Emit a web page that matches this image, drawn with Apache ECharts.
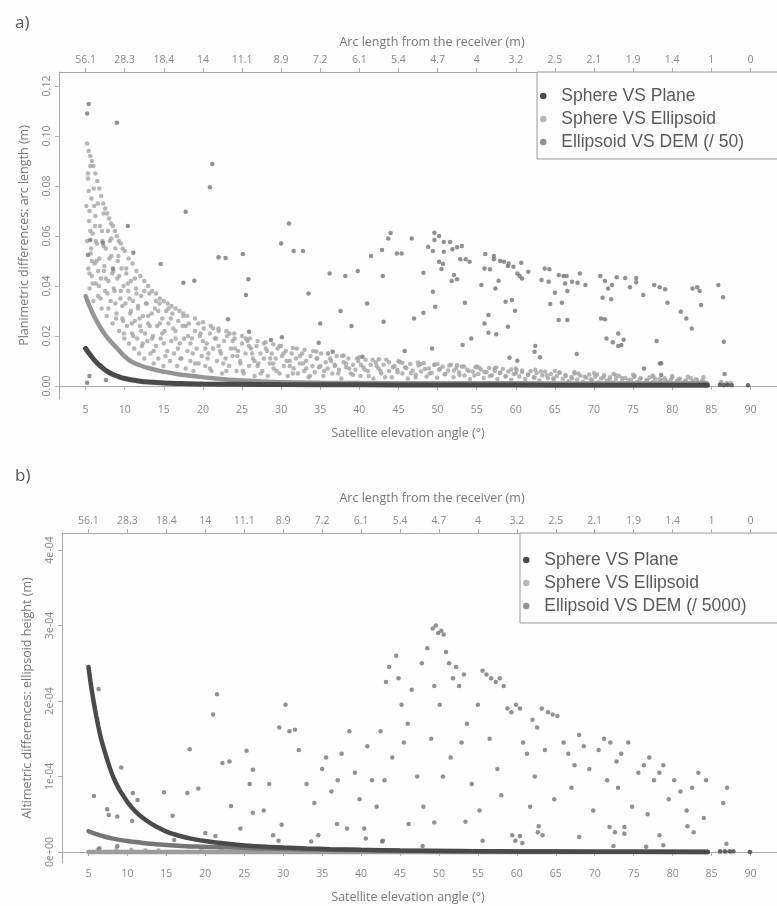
<!DOCTYPE html>
<html>
<head>
<meta charset="utf-8">
<script src="https://cdn.jsdelivr.net/npm/echarts@6/dist/echarts.min.js"></script>
<style>
html,body{margin:0;padding:0;background:#fdfdfd;}
#chart{width:777px;height:906px;}
</style>
</head>
<body>
<div id="chart"></div>
<script>
// ---------- tick labels ----------
const elevTicks = [5,10,15,20,25,30,35,40,45,50,55,60,65,70,75,80,85,90];
const arcLabels = ['56.1','28.3','18.4','14','11.1','8.9','7.2','6.1','5.4','4.7','4','3.2','2.5','2.1','1.9','1.4','1','0'];
const yTicksA = [0,0.02,0.04,0.06,0.08,0.10,0.12];
const yTicksB = [0,1e-4,2e-4,3e-4,4e-4];

// ---------- panel a) planimetric differences ----------
const planeA_curve = [[5,0.0150],[5.5,0.0128],[6,0.0108],[6.5,0.0091],[7,0.0077],[7.5,0.0064],[8,0.0054],[8.5,0.0046],[9,0.0040],[10,0.0030],[11,0.0024],[12,0.0019],[13,0.0016],[15,0.0012],[17,0.0010],[20,0.0008],[25,0.0007],[30,0.0006],[40,0.0005],[50,0.0004],[60,0.0004],[70,0.0003],[84.5,0.0003]];
const planeA_pts = [[86.1,0.0004],[86.6,0.0003],[87.1,0.0004],[87.6,0.0003],[89.7,0.0003]];
const ellA_lower = [[5,0.0360],[5.5,0.0320],[6,0.0285],[6.5,0.0255],[7,0.0228],[7.5,0.0205],[8,0.0185],[8.5,0.0168],[9,0.0152],[10,0.0118],[11,0.0095],[12,0.0082],[13,0.0072],[14,0.0064],[15,0.0057],[17,0.0046],[19,0.0039],[21,0.0032],[24,0.0024],[27,0.0019],[30,0.0015],[35,0.0013],[40,0.0012],[50,0.0011],[60,0.0011],[70,0.0010],[84.5,0.0010]];
const ellA_env = [[5.2,0.097],[5.4,0.094],[5.6,0.092],[5.8,0.090],[6,0.088],[6.25,0.085],[6.5,0.082],[6.75,0.079],[7,0.076],[7.25,0.073],[7.5,0.071],[7.75,0.069],[8,0.067],[8.25,0.065],[8.5,0.064],[8.75,0.062],[9,0.060],[9.25,0.058],[9.5,0.057],[9.75,0.055],[10,0.054],[10.5,0.051],[11,0.049],[11.5,0.046],[12,0.044],[12.5,0.042],[13,0.040],[13.5,0.038],[14,0.037],[14.5,0.035],[15,0.034],[15.5,0.033],[16,0.032],[16.5,0.031],[17,0.030],[17.5,0.029],[18,0.028],[19,0.027],[20,0.0255],[21,0.024],[22,0.023],[23,0.022],[24,0.021],[25,0.020],[26,0.019],[27,0.018],[28,0.0175],[29,0.0167],[30,0.016],[31.5,0.0152],[33,0.0145],[34.5,0.0138],[36,0.013],[38,0.0122],[40,0.0115],[42.5,0.0107],[45,0.010],[47.5,0.0094],[50,0.0088],[52.5,0.0083],[55,0.0078],[57.5,0.0074],[60,0.0070],[62.5,0.0065],[65,0.0060],[67.5,0.0056],[70,0.0052],[72.5,0.0048],[75,0.0045],[77.5,0.0042],[80,0.0040],[82,0.0037],[84,0.0035]];
const ellA_fill = [[5.3,0.085],[5.4,0.078],[5.5,0.070],[5.6,0.062],[5.7,0.055],[5.8,0.050],[5.5,0.045],[5.9,0.041],[6.1,0.072],[6.2,0.064],[6.3,0.058],[6.4,0.050],[6.6,0.046],[6.7,0.040],[6.9,0.035],[7.1,0.062],[7.3,0.056],[7.4,0.048],[7.6,0.043],[7.8,0.037],[7.9,0.031],[8.1,0.058],[8.3,0.052],[8.4,0.045],[8.6,0.039],[8.8,0.033],[8.9,0.027],[9.1,0.050],[9.3,0.044],[9.5,0.038],[9.7,0.032],[9.8,0.026],[9.9,0.021],
[10.2,0.047],[10.4,0.041],[10.6,0.035],[10.8,0.030],[10.9,0.025],[11.1,0.020],[11.3,0.043],[11.5,0.037],[11.7,0.032],[11.9,0.027],[12.1,0.022],[12.3,0.017],[12.5,0.038],[12.8,0.033],[13,0.028],[13.2,0.024],[13.5,0.019],[13.7,0.014],[14,0.034],[14.3,0.030],[14.5,0.025],[14.8,0.021],[15,0.017],[15.2,0.012],[15.6,0.031],[15.9,0.027],[16.2,0.023],[16.5,0.019],[16.8,0.015],[17.1,0.011],[17.5,0.028],[17.8,0.024],[18.1,0.020],[18.4,0.017],[18.7,0.013],[19,0.009],[19.4,0.025],[19.7,0.021],[20,0.018],
[20.3,0.015],[20.6,0.011],[20.9,0.007],[21.3,0.023],[21.7,0.019],[22,0.016],[22.3,0.013],[22.6,0.009],[23,0.006],[23.4,0.021],[23.8,0.018],[24.1,0.015],[24.4,0.012],[24.8,0.009],[25.1,0.006],[25.5,0.019],[25.9,0.016],[26.3,0.013],[26.6,0.010],[27,0.008],[27.4,0.005],[27.8,0.017],[28.2,0.014],[28.6,0.011],[29,0.009],[29.4,0.006],[29.8,0.016],
[30.3,0.013],[30.7,0.010],[31.1,0.008],[31.5,0.005],[32,0.015],[32.4,0.012],[32.8,0.009],[33.2,0.007],[33.7,0.004],[34.1,0.014],[34.6,0.011],[35,0.008],[35.5,0.006],[36,0.013],[36.4,0.010],[36.9,0.008],[37.3,0.005],[37.8,0.012],[38.3,0.009],[38.7,0.007],[39.2,0.0045],[39.7,0.011],[40.2,0.0085],[40.7,0.0065],[41.2,0.004],[41.7,0.0105],[42.2,0.008],[42.7,0.006],[43.3,0.0035],[43.8,0.0095],[44.3,0.0075],[44.9,0.0055],
[45.5,0.0093],[46,0.0072],[46.6,0.0052],[47.2,0.0035],[47.8,0.0088],[48.4,0.0068],[49,0.005],[49.6,0.0085],[50.2,0.0065],[50.9,0.0047],[51.5,0.0082],[52.1,0.0062],[52.8,0.0045],[53.4,0.0078],[54,0.006],[54.7,0.0042],[55.3,0.0074],[56,0.0056],[56.7,0.004],[57.3,0.007],[58,0.0053],[58.7,0.0038],[59.4,0.0066],[60,0.005],
[60.8,0.0062],[61.6,0.0045],[62.4,0.0034],[63.2,0.0058],[64,0.0042],[64.8,0.0031],[65.6,0.0054],[66.4,0.004],[67.2,0.003],[68,0.005],[68.8,0.0037],[69.6,0.0027],[70.4,0.0046],[71.2,0.0034],[72,0.0025],[72.8,0.0043],[73.6,0.0032],[74.4,0.0024],[75.2,0.004],[76,0.003],[76.8,0.0022],[77.6,0.0037],[78.4,0.0028],[79.2,0.002],[80,0.0034],[80.8,0.0026],[81.6,0.0019],[82.4,0.0031],[83.2,0.0024],[84,0.0018],[86.3,0.0015],[87,0.0012]];
const ellA_fill2 = [[5.1,0.072],[5.2,0.058],[5.3,0.083],[5.35,0.047],[5.45,0.066],[5.5,0.039],[5.6,0.088],[5.65,0.053],[5.75,0.075],[5.8,0.044],[5.9,0.061],[6.0,0.034],[6.05,0.079],[6.15,0.049],[6.25,0.068],[6.3,0.041],[6.45,0.057],[6.55,0.073],[6.6,0.036],[6.75,0.051],[6.85,0.064],[6.95,0.043],[7.05,0.031],[7.15,0.058],[7.3,0.069],[7.35,0.046],[7.5,0.038],[7.6,0.055],[7.7,0.028],[7.85,0.062],[7.9,0.042],[8.05,0.051],[8.2,0.034],[8.3,0.059],[8.45,0.025],[8.55,0.046],[8.7,0.038],[8.8,0.055],[8.95,0.029],[9.05,0.043],[9.2,0.052],[9.3,0.022],[9.45,0.035],[9.6,0.047],[9.7,0.027],[9.85,0.04],[9.95,0.019],
[10.1,0.033],[10.2,0.045],[10.3,0.024],[10.45,0.038],[10.55,0.017],[10.7,0.029],[10.8,0.042],[10.95,0.021],[11.05,0.034],[11.2,0.015],[11.3,0.026],[11.45,0.039],[11.6,0.019],[11.7,0.031],[11.85,0.013],[11.95,0.024],[12.1,0.036],[12.2,0.016],[12.35,0.028],[12.5,0.011],[12.6,0.021],[12.75,0.033],[12.9,0.018],[13.0,0.025],[13.15,0.037],[13.3,0.013],[13.45,0.029],[13.6,0.02],[13.7,0.009],[13.85,0.031],[14.0,0.016],[14.15,0.024],[14.3,0.011],[14.45,0.033],[14.6,0.019],[14.8,0.027],[14.95,0.008],[15.1,0.022],[15.3,0.03],[15.45,0.014],[15.6,0.025],[15.8,0.01],[15.95,0.018],[16.1,0.029],[16.3,0.013],[16.5,0.022],[16.7,0.008],[16.85,0.026],[17.05,0.017],[17.25,0.011],[17.4,0.024],[17.6,0.019],[17.8,0.007],[18.0,0.014],[18.2,0.025],[18.4,0.01],[18.6,0.019],[18.8,0.006],[19.0,0.022],[19.2,0.015],[19.45,0.009],[19.6,0.02],[19.85,0.012],
[20.1,0.023],[20.3,0.008],[20.5,0.017],[20.7,0.013],[20.9,0.021],[21.1,0.006],[21.3,0.015],[21.5,0.019],[21.8,0.01],[22.0,0.022],[22.2,0.014],[22.45,0.005],[22.7,0.018],[22.9,0.011],[23.1,0.02],[23.35,0.008],[23.6,0.015],[23.8,0.012],[24.05,0.019],[24.3,0.006],[24.5,0.014],[24.75,0.01],[25.0,0.017],[25.2,0.005],[25.45,0.013],[25.7,0.018],[25.9,0.008],[26.15,0.015],[26.4,0.011],[26.6,0.004],[26.85,0.016],[27.1,0.009],[27.35,0.013],[27.6,0.006],[27.8,0.011],[28.05,0.015],[28.3,0.004],[28.55,0.009],[28.8,0.013],[29.05,0.007],[29.3,0.011],[29.55,0.015],[29.8,0.005],
[30.1,0.012],[30.35,0.008],[30.6,0.014],[30.85,0.004],[31.1,0.01],[31.35,0.013],[31.6,0.007],[31.9,0.011],[32.15,0.005],[32.4,0.009],[32.7,0.013],[32.95,0.006],[33.2,0.01],[33.5,0.0035],[33.75,0.012],[34.0,0.008],[34.3,0.0055],[34.55,0.011],[34.85,0.0075],[35.1,0.013],[35.4,0.004],[35.7,0.0095],[35.95,0.007],[36.25,0.011],[36.55,0.005],[36.85,0.0085],[37.1,0.012],[37.4,0.0065],[37.7,0.003],[38.0,0.0095],[38.3,0.0075],[38.6,0.011],[38.9,0.005],[39.2,0.0085],[39.5,0.0065],[39.85,0.01],[40.15,0.004],[40.5,0.0075],[40.8,0.0105],[41.1,0.006],[41.45,0.0085],[41.8,0.003],[42.1,0.0095],[42.45,0.007],[42.8,0.005],[43.1,0.0085],[43.45,0.0105],[43.8,0.006],[44.15,0.0035],[44.5,0.008],[44.85,0.0065],
[45.2,0.0095],[45.5,0.005],[45.85,0.0075],[46.2,0.003],[46.5,0.0088],[46.85,0.0062],[47.2,0.0045],[47.55,0.0082],[47.9,0.0058],[48.25,0.0092],[48.6,0.0038],[48.9,0.007],[49.25,0.0052],[49.6,0.0085],[49.95,0.0033],[50.3,0.0068],[50.65,0.0078],[51.0,0.0048],[51.35,0.0062],[51.7,0.0085],[52.05,0.0035],[52.4,0.0072],[52.75,0.0055],[53.1,0.0078],[53.45,0.0042],[53.8,0.0065],[54.15,0.0028],[54.5,0.0058],[54.85,0.0075],[55.2,0.0048],[55.55,0.0066],[55.9,0.0032],[56.25,0.0055],[56.6,0.0072],[56.95,0.0043],[57.3,0.006],[57.65,0.0028],[58.0,0.0052],[58.35,0.0068],[58.7,0.004],[59.05,0.0058],[59.4,0.0025],[59.75,0.0048],[60.1,0.0064],
[60.45,0.0038],[60.8,0.0055],[61.2,0.0028],[61.55,0.0046],[61.9,0.006],[62.3,0.0034],[62.65,0.0052],[63.0,0.0022],[63.4,0.0042],[63.75,0.0057],[64.1,0.0031],[64.5,0.0048],[64.85,0.0024],[65.25,0.004],[65.6,0.0053],[66.0,0.0028],[66.35,0.0044],[66.75,0.0019],[67.1,0.0036],[67.5,0.005],[67.85,0.0026],[68.25,0.0041],[68.6,0.0017],[69.0,0.0033],[69.4,0.0046],[69.75,0.0023],[70.15,0.0038],[70.5,0.0015],[70.9,0.003],[71.3,0.0043],[71.65,0.0021],[72.05,0.0035],[72.45,0.0014],[72.8,0.0028],[73.2,0.004],[73.6,0.0019],[74.0,0.0032],[74.35,0.0012],[74.75,0.0026],[75.15,0.0037],[75.55,0.0017],[75.9,0.003],[76.3,0.0011],[76.7,0.0024],[77.1,0.0034],[77.5,0.0015],[77.85,0.0027],[78.25,0.001],[78.65,0.0022],[79.05,0.0031],[79.45,0.0014],[79.8,0.0025],[80.2,0.001],[80.6,0.002],[81.0,0.0029],[81.4,0.0013],[81.8,0.0023],[82.2,0.0009],[82.6,0.0018],[83.0,0.0027],[83.4,0.0012],[83.8,0.0021],[84.2,0.001],[86.2,0.0014],[86.9,0.001],[87.5,0.0012]];
const demA = [[5.4,0.1128],[5.2,0.109],[9.0,0.1053],[21.2,0.0888],[20.9,0.0795],[17.8,0.0697],[10.4,0.064],[22,0.0515],[22.9,0.0512],[25.1,0.0528],[14.6,0.0488],[25.8,0.0427],[25.5,0.0364],[17.5,0.0413],[18.9,0.0421],[23.2,0.0267],[25.9,0.0217],[11.1,0.0533],[8.5,0.047],[7.2,0.0573],[5.3,0.0524],[5.6,0.0584],[7.6,0.0024],[5.2,0.0013],[5.5,0.004],
[28.7,0.0184],[30.1,0.0195],[34.8,0.0173],[36.6,0.0137],[40.4,0.0117],
[31,0.065],[30,0.057],[31.6,0.054],[32.8,0.054],[36.2,0.045],[37.6,0.030],[38.2,0.044],[39.8,0.046],[41,0.033],[35,0.025],[33.5,0.037],[39,0.024],[41.5,0.052],
[42.9,0.0544],[44.0,0.0612],[43.7,0.059],[46.7,0.059],[44.8,0.053],[45.4,0.053],[43,0.044],[43.1,0.0257],[47,0.027],[48.2,0.0293],[45.8,0.014],[49.3,0.015],
[49.6,0.0613],[50.2,0.060],[49.6,0.0584],[50.8,0.0576],[51.6,0.0576],[48.8,0.0556],[49.4,0.054],[50.8,0.0537],[51.9,0.0547],[52.5,0.0555],[53.1,0.056],[50.2,0.0497],[50.7,0.0488],[50.5,0.0468],[48.2,0.0453],[52.1,0.0444],[51.8,0.042],[52.5,0.0427],[49.4,0.0377],[49.7,0.0317],[53.5,0.0333],[52.9,0.0507],[53.6,0.0507],[54.1,0.0497],[53.2,0.0164],[54.3,0.019],
[56.1,0.0528],[57.2,0.052],[57.2,0.0507],[56,0.047],[56.7,0.0467],[58,0.050],[58.5,0.0497],[59.1,0.049],[59.7,0.0477],[59.0,0.048],[60.7,0.0493],[60.2,0.045],[60.5,0.044],[60.8,0.043],[61.6,0.0457],[57.8,0.0421],[57.4,0.039],[55.6,0.0404],[58.7,0.0337],[59.5,0.0344],[59.9,0.0301],[56.5,0.0284],[56,0.025],[56.5,0.0213],[57.5,0.0207],[59,0.0237],[59.2,0.0113],[60.2,0.0101],[62.5,0.016],[62.4,0.0137],[63.1,0.0115],
[63.7,0.047],[64.3,0.0467],[63.3,0.0424],[64.2,0.0417],[65.5,0.0444],[66.1,0.044],[66.5,0.044],[67.2,0.0417],[67.9,0.0413],[68.9,0.0404],[68.2,0.045],[66.3,0.041],[66.6,0.038],[65,0.0373],[65.9,0.0333],[65.5,0.0264],[66.6,0.0264],[64.4,0.0328],[67.8,0.0128],
[70.8,0.044],[71.4,0.042],[71.8,0.039],[72.3,0.0404],[72.9,0.0435],[71.1,0.0353],[72.2,0.0347],[70.9,0.027],[71.4,0.0267],[71.6,0.019],[72.4,0.0175],[73.5,0.0164],[73.8,0.0185],
[74,0.0432],[74.6,0.0395],[75.4,0.0415],[75.4,0.0432],[76.3,0.0364],[77.7,0.0404],[78.4,0.0395],[79.1,0.0387],[79.4,0.0333],[78,0.018],[78.6,0.0091],[81.1,0.0297],[81.8,0.027],[82.5,0.023],[82.6,0.039],[83.2,0.0395],[83.5,0.038],[83.7,0.0324],[85.9,0.0404],[86.5,0.0355],[86.6,0.0177],
[73.1,0.021],[73.1,0.016],[76.4,0.007],[78.4,0.009],[78.6,0.0044],[86.7,0.0048]];

// ---------- panel b) altimetric differences ----------
const planeB_curve = [[5,2.45e-4],[5.25,2.26e-4],[5.5,2.09e-4],[5.75,1.94e-4],[6,1.80e-4],[6.25,1.67e-4],[6.5,1.55e-4],[6.75,1.45e-4],[7,1.36e-4],[7.5,1.19e-4],[8,1.04e-4],[8.5,0.92e-4],[9,0.82e-4],[9.5,0.74e-4],[10,0.66e-4],[11,0.54e-4],[12,0.45e-4],[13,0.38e-4],[14,0.32e-4],[15,0.27e-4],[16,0.235e-4],[17,0.205e-4],[18,0.18e-4],[19,0.16e-4],[20,0.145e-4],[22,0.118e-4],[24,0.097e-4],[26,0.08e-4],[28,0.068e-4],[30,0.058e-4],[33,0.046e-4],[36,0.037e-4],[40,0.028e-4],[45,0.02e-4],[50,0.014e-4],[55,0.01e-4],[60,0.007e-4],[70,0.003e-4],[84.5,0.001e-4]];
const planeB_pts = [[86.1,0.01e-4],[86.7,0.01e-4],[87.3,0.01e-4],[87.8,0.01e-4],[89.9,0.0]];
const demB_curve = [[5,0.275e-4],[6,0.235e-4],[7,0.205e-4],[8,0.18e-4],[9,0.16e-4],[10,0.145e-4],[11,0.132e-4],[12,0.12e-4],[13,0.11e-4],[15,0.093e-4],[17,0.08e-4],[19,0.071e-4],[21,0.066e-4],[23.5,0.06e-4],[26,0.05e-4],[29,0.042e-4],[32,0.036e-4],[36,0.028e-4],[40,0.022e-4],[45,0.016e-4],[50,0.012e-4],[55,0.009e-4],[60,0.007e-4],[70,0.004e-4],[84.5,0.003e-4]];
const ellB_line = [[5,0.0],[20,0.0],[40,0.0],[60,0.0],[84.5,0.0]];
const demB = [[6.3,2.16e-4],[5.7,0.74e-4],[7.4,0.565e-4],[7.6,0.49e-4],[8.7,0.47e-4],[9.2,1.12e-4],[10.6,0.41e-4],[10.7,0.78e-4],[11.3,0.69e-4],[6.4,0.05e-4],[8.7,0.08e-4],[14.7,0.79e-4],[15.8,0.48e-4],[16,0.16e-4],[17.7,0.78e-4],[18,1.36e-4],[19.1,0.84e-4],[20,0.25e-4],[21,1.82e-4],[21.5,2.09e-4],[21.3,0.21e-4],[22.2,1.18e-4],[23.1,1.2e-4],[23.3,0.61e-4],[24.5,0.31e-4],[25.3,1.34e-4],[25.7,0.9e-4],[26.1,1.09e-4],[26.1,0.52e-4],
[28.7,0.22e-4],[29.4,0.15e-4],[29.8,0.36e-4],[33.6,0.14e-4],[34.5,0.22e-4],[36.9,0.37e-4],[38.2,0.31e-4],[40.4,0.31e-4],[40.6,0.18e-4],[42.8,0.15e-4],
[46.1,0.37e-4],[49.4,0.39e-4],[53.4,0.40e-4],[55.6,0.15e-4],[42.7,0.14e-4],[47.9,0.08e-4],[59.4,0.22e-4],[59.8,0.15e-4],[60.4,0.21e-4],[60.7,0.12e-4],[62.8,0.34e-4],[62.7,0.26e-4],[63.3,0.22e-4],[68,0.2e-4],[71.9,0.33e-4],[72.6,0.26e-4],[72.4,0.08e-4],[73.8,0.33e-4],[73.8,0.24e-4],[76.6,0.07e-4],[78.3,0.22e-4],[78.8,0.09e-4],[81.9,0.34e-4],[82.7,0.26e-4],[86.9,0.11e-4],
[27.5,0.55e-4],[28.2,0.9e-4],[29.5,1.65e-4],[30.3,1.95e-4],[30.8,1.6e-4],[31.5,1.62e-4],[32,1.35e-4],[33,0.9e-4],[34,0.65e-4],[35,1.1e-4],[35.5,1.25e-4],[36.2,0.8e-4],[37,0.95e-4],[37.5,1.3e-4],[38.5,1.6e-4],[39.2,1.05e-4],[39.8,0.7e-4],[40.8,1.4e-4],[41.4,0.95e-4],[42,0.6e-4],
[42.5,1.6e-4],[43.2,2.25e-4],[43.6,2.45e-4],[44.5,2.6e-4],[44.8,2.3e-4],[45.2,1.95e-4],[46,1.7e-4],[46.5,2.15e-4],[43,0.95e-4],[44,1.25e-4],[45.5,1.45e-4],[47.2,1.0e-4],[47.8,2.5e-4],[48.5,2.7e-4],[49.2,2.96e-4],[49.6,3.0e-4],[49.9,2.9e-4],[50.3,2.93e-4],[50.6,2.88e-4],[49.4,2.2e-4],[50.1,1.95e-4],[50.9,2.65e-4],[51.3,2.5e-4],[51.8,2.3e-4],[52.2,2.45e-4],[52.6,2.2e-4],[53.2,2.35e-4],[53.6,1.7e-4],[52.9,1.45e-4],[51.5,1.25e-4],[50.5,1.0e-4],[49,1.5e-4],[48,0.6e-4],[54.2,0.9e-4],
[55,1.95e-4],[55.6,2.4e-4],[56.1,2.35e-4],[56.7,2.3e-4],[57.3,2.25e-4],[57.8,2.3e-4],[58.3,2.2e-4],[58.8,1.9e-4],[59.3,1.85e-4],[59.9,1.95e-4],[60.4,1.9e-4],[56.5,1.5e-4],[57.5,1.1e-4],[58,0.75e-4],[55.2,0.55e-4],[60.8,1.45e-4],[61.3,1.3e-4],[62,1.75e-4],[62.6,1.65e-4],[63.2,1.9e-4],[64,1.85e-4],[64.6,1.82e-4],[65.2,1.8e-4],[63.6,1.35e-4],[62.3,1.0e-4],[61.7,0.6e-4],[64.8,0.7e-4],
[66,1.45e-4],[66.6,1.3e-4],[67.4,1.15e-4],[68,1.55e-4],[68.6,1.4e-4],[69.3,1.1e-4],[67,0.85e-4],[69.8,0.55e-4],[70.5,1.35e-4],[71.2,1.5e-4],[72,1.45e-4],[72.8,1.2e-4],[73.4,1.3e-4],[74.3,1.45e-4],[71.6,0.95e-4],[73,0.85e-4],[74.8,0.6e-4],[75.6,1.05e-4],[76.3,1.15e-4],[77,1.25e-4],[77.6,0.95e-4],[78.3,1.05e-4],[78.8,1.15e-4],[79.5,0.7e-4],[76.8,0.5e-4],[80.2,0.95e-4],[81,0.8e-4],[81.8,0.55e-4],[82.5,0.85e-4],[83.3,1.05e-4],[84.3,0.95e-4],[84,0.45e-4],[86.5,0.65e-4],[87,0.85e-4]];
const ellB_pts = [[86.1,0.0],[86.8,0.0],[87.5,0.0],[90,0.0],[6.2,0.03e-4],[8.6,0.04e-4],[10.5,0.03e-4],[12.3,0.02e-4],[14,0.02e-4],[19.5,0.03e-4],[22,0.03e-4]];

// ---------- chart ----------
const C_DARK = '#4a4a4a', C_LIGHT = '#a4a4a4', C_MED = '#767676';
const tickFont = {color:'#8a8a8a', fontSize:10.5, fontFamily:'Open Sans'};
const axisLineStyle = {lineStyle:{color:'#a8a8a8', width:1}};
const namesA = ['Sphere VS Plane','Sphere VS Ellipsoid','Ellipsoid VS DEM (/ 50)'];
const namesB = ['Sphere VS Plane','Sphere VS Ellipsoid','Ellipsoid VS DEM (/ 5000)'];

function xBottom(grid){
  return {type:'value', gridIndex:grid, position:'bottom', min:1.6, max:93.4,
    axisLine:{show:true, ...axisLineStyle}, splitLine:{show:false},
    axisTick:{show:true, length:4, lineStyle:{color:'#b0b0b0'}, customValues:elevTicks},
    axisLabel:{...tickFont, margin:6, customValues:elevTicks, formatter:v=>String(Math.round(v))}};
}
function xTop(grid){
  return {type:'value', gridIndex:grid, position:'top', min:1.6, max:93.4,
    axisLine:{show:true, ...axisLineStyle}, splitLine:{show:false},
    axisTick:{show:true, length:4, lineStyle:{color:'#b0b0b0'}, customValues:elevTicks},
    axisLabel:{...tickFont, margin:6, customValues:elevTicks,
      formatter:v=>{const i=elevTicks.indexOf(Math.round(v)); return i>=0?arcLabels[i]:'';}}};
}
const sym = 4.5;
function scat(name, data, color, xi, yi, size){
  return {type:'scatter', name, data, xAxisIndex:xi, yAxisIndex:yi, symbol:'circle', symbolSize:size||sym,
    itemStyle:{color}, silent:true};
}
function curve(name, data, color, xi, yi, w){
  return {type:'line', name, data, xAxisIndex:xi, yAxisIndex:yi, smooth:0.35, showSymbol:false, symbol:'circle',
    lineStyle:{color, width:w||4.5, cap:'round'}, itemStyle:{color}, silent:true};
}
function legendFor(names, left, top, padTop){
  return {orient:'vertical', left, top, itemWidth:26, itemHeight:6.5, itemGap:3, icon:'circle',
    padding:[padTop,40,7,3], borderColor:'#9a9a9a', borderWidth:1, backgroundColor:'#fdfdfd',
    selectedMode:false,
    textStyle:{fontSize:17.5, fontFamily:'Liberation Sans', color:'#5a5a5a', lineHeight:20},
    data:names.map(n=>({name:n, icon:'circle'}))};
}

const option = {
  backgroundColor:'#fdfdfd',
  animation:false,
  grid:[
    {left:59, right:-3, top:72, height:327},
    {left:62, right:-6, top:533, height:330}
  ],
  xAxis:[xBottom(0), xTop(0), xBottom(1), xTop(1)],
  yAxis:[
    {type:'value', gridIndex:0, min:-0.0052, max:0.1256, splitLine:{show:false},
     axisLine:{show:true, ...axisLineStyle},
     axisTick:{show:true, length:4, lineStyle:{color:'#b0b0b0'}, customValues:yTicksA},
     axisLabel:{...tickFont, rotate:90, margin:6, customValues:yTicksA, formatter:v=>v.toFixed(2)},
     name:'Planimetric differences: arc length (m)', nameLocation:'middle', nameGap:28,
     nameTextStyle:{color:'#777', fontSize:12.5, fontFamily:'Open Sans'}},
    {type:'value', gridIndex:1, min:-0.146e-4, max:4.225e-4, splitLine:{show:false},
     axisLine:{show:true, ...axisLineStyle},
     axisTick:{show:true, length:4, lineStyle:{color:'#b0b0b0'}, customValues:yTicksB},
     axisLabel:{...tickFont, rotate:90, margin:6, customValues:yTicksB,
       formatter:v=>{const n=Math.round(v*1e4); return n===0?'0e+00':n+'e-04';}},
     name:'Altimetric differences: ellipsoid height (m)', nameLocation:'middle', nameGap:28,
     nameTextStyle:{color:'#777', fontSize:12.5, fontFamily:'Open Sans'}}
  ],
  legend:[legendFor(namesA, 537, 72, 14), legendFor(namesB, 520, 533, 17)],
  graphic:[
    {type:'text', left:15, top:15, style:{text:'a)', fontSize:17, fontFamily:'Open Sans', fill:'#555'}},
    {type:'text', left:15, top:468, style:{text:'b)', fontSize:17, fontFamily:'Open Sans', fill:'#555'}},
    {type:'text', x:432, y:42, style:{text:'Arc length from the receiver (m)', fontSize:12.5, fontFamily:'Open Sans', fill:'#777', align:'center', verticalAlign:'middle'}},
    {type:'text', x:408, y:433, style:{text:'Satellite elevation angle (°)', fontSize:12.5, fontFamily:'Open Sans', fill:'#777', align:'center', verticalAlign:'middle'}},
    {type:'text', x:432, y:498, style:{text:'Arc length from the receiver (m)', fontSize:12.5, fontFamily:'Open Sans', fill:'#777', align:'center', verticalAlign:'middle'}},
    {type:'text', x:408, y:897, style:{text:'Satellite elevation angle (°)', fontSize:12.5, fontFamily:'Open Sans', fill:'#777', align:'center', verticalAlign:'middle'}}
  ],
  series:[
    // panel a
    scat(namesA[1], ellA_fill, C_LIGHT, 0, 0),
    scat(namesA[1], ellA_fill2, C_LIGHT, 0, 0),
    scat(namesA[1], ellA_env, C_LIGHT, 0, 0),
    curve(namesA[1], ellA_lower, '#959595', 0, 0, 4.5),
    scat(namesA[2], demA, C_MED, 0, 0),
    curve(namesA[0], planeA_curve, C_DARK, 0, 0, 5),
    scat(namesA[0], planeA_pts, C_DARK, 0, 0),
    // panel b
    curve(namesB[1], ellB_line, '#9c9c9c', 2, 1, 4.5),
    scat(namesB[1], ellB_pts, '#9c9c9c', 2, 1),
    scat(namesB[2], demB, C_MED, 2, 1),
    curve(namesB[2], demB_curve, C_MED, 2, 1, 4.5),
    curve(namesB[0], planeB_curve, C_DARK, 2, 1, 4.5),
    scat(namesB[0], planeB_pts, C_DARK, 2, 1)
  ]
};
option.legend[0].data[0].itemStyle = {color:C_DARK};
option.legend[0].data[1].itemStyle = {color:C_LIGHT};
option.legend[0].data[2].itemStyle = {color:C_MED};
option.legend[1].data[0].itemStyle = {color:C_DARK};
option.legend[1].data[1].itemStyle = {color:C_LIGHT};
option.legend[1].data[2].itemStyle = {color:C_MED};
const chart = echarts.init(document.getElementById('chart'), null, {renderer:'canvas'});
chart.setOption(option);
</script>
</body>
</html>
